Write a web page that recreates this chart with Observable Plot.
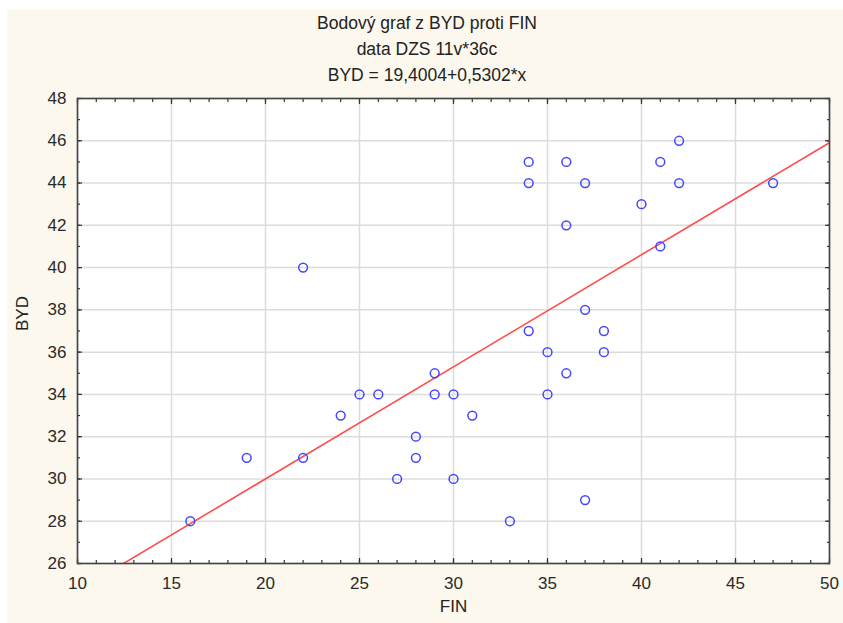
<!DOCTYPE html>
<html>
<head>
<meta charset="utf-8">
<script src="https://cdn.jsdelivr.net/npm/d3@7"></script>
<script src="https://cdn.jsdelivr.net/npm/@observablehq/plot@0.6"></script>
<style>
  html, body { margin: 0; padding: 0; background: #ffffff; }
  #wrap { position: relative; width: 843px; height: 623px; overflow: hidden; background: #ffffff; font-family: "Liberation Sans", Arial, sans-serif; }
  #cream { position: absolute; left: 7px; top: 10px; right: 0; bottom: 0; background: #fdf8ee; }
  #titles { position: absolute; left: 7px; width: 840px; top: 10px; text-align: center; font-size: 17.5px; line-height: 26px; color: #222; }
  #chart { position: absolute; left: 0; top: 85px; }
</style>
</head>
<body>
<div id="wrap">
  <div id="cream"></div>
  <div id="titles">
    <div>Bodový graf z BYD proti FIN</div>
    <div>data DZS 11v*36c</div>
    <div>BYD = 19,4004+0,5302*x</div>
  </div>
  <div id="chart"></div>
</div>
<script>
// Data
const fin = [16, 19, 22, 22, 24, 25, 26, 27, 28, 28, 29, 29, 30, 30, 31, 33, 34, 34, 34, 35, 35, 36, 36, 36, 37, 37, 37, 38, 38, 40, 41, 41, 42, 42, 47];
const byd = [28, 31, 31, 40, 33, 34, 34, 30, 32, 31, 35, 34, 34, 30, 33, 28, 45, 44, 37, 36, 34, 45, 42, 35, 44, 38, 29, 37, 36, 43, 45, 41, 46, 44, 44];
const intercept = 19.4004;
const slope = 0.5302;
const lineX = [10, 50];
const xMajor = [10, 15, 20, 25, 30, 35, 40, 45, 50];
const yMajor = [26, 28, 30, 32, 34, 36, 38, 40, 42, 44, 46, 48];
const xMinor = d3.range(10, 51, 1);
const yMinor = d3.range(26, 49, 1);

const points = fin.map((f, i) => ({FIN: f, BYD: byd[i]}));
const fitLine = lineX.map(x => ({FIN: x, BYD: intercept + slope * x}));

const noText = () => "";
const tickColor = "#333";

const chart = Plot.plot({
  width: 843,
  height: 538,
  marginTop: 13,
  marginLeft: 77,
  marginRight: 14,
  marginBottom: 60,
  style: {background: "transparent", fontFamily: "Liberation Sans, Arial, sans-serif", color: "#333"},
  x: {domain: [10, 50]},
  y: {domain: [26, 48]},
  marks: [
    Plot.frame({fill: "white", stroke: "none"}),
    Plot.gridX(xMajor, {stroke: "#dcdcdc", strokeOpacity: 1, strokeWidth: 1.5}),
    Plot.gridY(yMajor, {stroke: "#dcdcdc", strokeOpacity: 1, strokeWidth: 1.5}),
    // inward ticks on all four sides
    Plot.axisX(xMinor, {anchor: "bottom", tickSize: -3, tickFormat: noText, label: null, stroke: tickColor, strokeWidth: 1.2}),
    Plot.axisX(xMinor, {anchor: "top", tickSize: -3, tickFormat: noText, label: null, stroke: tickColor, strokeWidth: 1.2}),
    Plot.axisY(yMinor, {anchor: "left", tickSize: -3, tickFormat: noText, label: null, stroke: tickColor, strokeWidth: 1.2}),
    Plot.axisY(yMinor, {anchor: "right", tickSize: -3, tickFormat: noText, label: null, stroke: tickColor, strokeWidth: 1.2}),
    Plot.axisX(xMajor, {anchor: "bottom", tickSize: -5, tickFormat: noText, label: null, stroke: tickColor, strokeWidth: 1.2}),
    Plot.axisX(xMajor, {anchor: "top", tickSize: -5, tickFormat: noText, label: null, stroke: tickColor, strokeWidth: 1.2}),
    Plot.axisY(yMajor, {anchor: "left", tickSize: -5, tickFormat: noText, label: null, stroke: tickColor, strokeWidth: 1.2}),
    Plot.axisY(yMajor, {anchor: "right", tickSize: -5, tickFormat: noText, label: null, stroke: tickColor, strokeWidth: 1.2}),
    // tick labels
    Plot.axisX(xMajor, {anchor: "bottom", tickSize: 0, tickPadding: 13, fontSize: 17, label: null, fill: "#2a2a2a"}),
    Plot.axisY(yMajor, {anchor: "left", tickSize: 0, tickPadding: 11, fontSize: 17, label: null, fill: "#2a2a2a"}),
    // regression line
    Plot.line(fitLine, {x: "FIN", y: "BYD", stroke: "#ff4d4d", strokeWidth: 1.6, clip: true}),
    // points
    Plot.dot(points, {x: "FIN", y: "BYD", r: 4.4, stroke: "#4646ff", strokeWidth: 1.5, fill: "none"}),
    Plot.frame({stroke: "#444", strokeWidth: 1.6}),
    // axis titles
    Plot.text(["FIN"], {frameAnchor: "bottom", dy: 48, text: d => d, fontSize: 17, fill: "#222"}),
    Plot.text(["BYD"], {frameAnchor: "left", dx: -55, rotate: -90, text: d => d, fontSize: 17, fill: "#222"})
  ]
});
document.getElementById("chart").appendChild(chart);
</script>
</body>
</html>
